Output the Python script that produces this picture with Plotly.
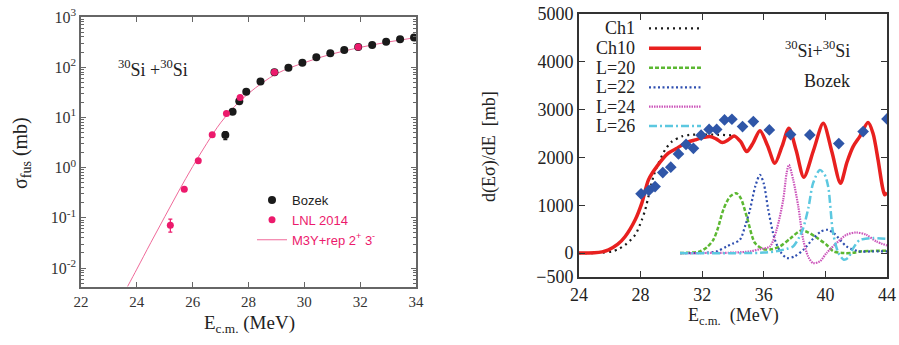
import plotly.graph_objects as go

# ---------------- Left panel data ----------------
bozek_E = [27.17, 27.43, 27.67, 27.92, 28.43, 28.93, 29.43, 29.93, 30.43, 30.93, 31.43, 31.93, 32.43, 32.93, 33.43, 33.93]
bozek_sigma = [4.45, 12.9, 21.0, 32.5, 52.0, 79.0, 97.0, 122.0, 158.0, 189.0, 221.0, 252.0, 278.0, 322.0, 360.0, 389.0]
bozek_err_plus = [0.75, 0, 0, 0, 0, 0, 0, 0, 0, 0, 0, 0, 0, 0, 0, 0]
bozek_err_minus = [0.85, 0, 0, 0, 0, 0, 0, 0, 0, 0, 0, 0, 0, 0, 0, 0]

lnl_E = [25.20, 25.70, 26.20, 26.70, 27.21, 27.70, 28.93, 31.93]
lnl_sigma = [0.071, 0.37, 1.37, 4.5, 12.0, 25.0, 79.0, 253.0]
lnl_err_plus = [0.023, 0, 0, 0, 0, 0, 0, 0]
lnl_err_minus = [0.019, 0, 0, 0, 0, 0, 0, 0]

m3y_E = [23.67, 24.0, 24.5, 25.0, 25.5, 26.0, 26.5, 27.0, 27.5, 28.0, 28.5, 29.0, 29.5, 30.0, 30.5, 31.0, 31.5, 32.0, 32.5, 33.0, 33.5, 34.0]
m3y_sigma = [0.0043, 0.0095, 0.032, 0.105, 0.34, 1.05, 3.0, 7.8, 16.5, 30.0, 49.0, 74.0, 98.0, 123.0, 153.0, 184.0, 215.0, 248.0, 282.0, 318.0, 352.0, 390.0]

left_ytick_vals = [0.01, 0.1, 1, 10, 100, 1000]
left_ytick_text = ["10<sup>-2</sup>", "10<sup>-1</sup>", "10<sup>0</sup>", "10<sup>1</sup>", "10<sup>2</sup>", "10<sup>3</sup>"]
left_minor_vals = [m * 10 ** k for k in range(-3, 3) for m in range(2, 10)]

# ---------------- Right panel data ----------------
exp_E = [28.03, 28.54, 28.94, 29.44, 29.96, 30.46, 30.95, 31.43, 31.93, 32.45, 32.94, 33.45, 33.93, 34.62, 35.32, 36.36, 37.74, 38.99, 40.87, 42.45, 44.0]
exp_val = [1240, 1310, 1392, 1684, 1796, 2074, 2273, 2190, 2465, 2586, 2586, 2785, 2799, 2645, 2750, 2576, 2478, 2471, 2290, 2541, 2806]

ch1_E = [24.0, 25.0, 25.5, 26.14, 26.6, 27.0, 27.65, 28.08, 28.3, 28.51, 28.83, 29.16, 29.59, 30.03, 30.68, 31.2, 32.0, 33.0, 34.1]
ch1_val = [0, 0, 8, 33, 90, 173, 382, 696, 905, 1183, 1600, 1880, 2158, 2331, 2440, 2472, 2480, 2475, 2460]

ch10_E = [24.0, 25.0, 25.5, 25.92, 26.5, 27.0, 27.65, 28.08, 28.51, 29.05, 29.8, 30.4, 30.89, 31.54, 32.1, 32.5, 32.9, 33.31, 33.7, 34.07, 34.5, 34.89, 35.3,
          35.75, 36.24, 36.72, 37.18, 37.63, 38.1, 38.6, 39.23, 39.86, 40.42, 40.98, 41.4, 41.8, 42.23, 42.77, 43.09, 43.42, 43.7, 43.85, 44.0]
ch10_val = [0, 5, 25, 69, 180, 347, 696, 1044, 1531, 1809, 2089, 2200, 2298, 2367, 2420, 2440, 2390, 2311, 2370, 2450, 2330, 2123, 2300,
            2561, 2250, 1880, 2230, 2611, 2150, 1588, 2150, 2715, 2120, 1462, 1900, 2227, 2436, 2729, 2507, 1949, 1392, 1218, 1266]

l20_E = [30.56, 31.5, 31.86, 32.3, 32.72, 33.0, 33.37, 33.8, 34.2, 34.5, 34.89, 35.43, 35.97, 36.5, 37.05, 37.7, 38.4, 38.9, 39.4, 40.07, 40.5, 41.2, 41.8, 42.3, 43.0, 44.0]
l20_val = [0, 15, 35, 120, 278, 500, 904, 1180, 1253, 1150, 766, 209, 84, 80, 139, 300, 470, 430, 330, 174, 40, 0, 5, 35, 45, 50]

l22_E = [30.56, 32.0, 32.94, 33.59, 34.0, 34.45, 34.8, 35.1, 35.45, 35.75, 36.0, 36.29, 36.72, 37.1, 37.5, 38.0, 38.6, 39.2, 39.7, 40.15, 40.6, 41.37, 42.2, 43.0, 44.0]
l22_val = [0, 5, 35, 139, 200, 278, 580, 904, 1400, 1636, 1450, 904, 278, 20, -104, -70, 80, 300, 450, 487, 400, 139, 35, 35, 35]

l24_E = [30.56, 34.0, 35.1, 35.75, 36.4, 36.83, 37.26, 37.48, 37.63, 37.91, 38.24, 38.56, 38.88, 39.2, 39.64, 40.07, 40.72, 41.37, 42.0, 42.66, 43.31, 44.0]
l24_val = [0, 10, 35, 84, 139, 487, 1114, 1671, 1845, 1531, 974, 278, -70, -209, -174, 0, 209, 383, 431, 383, 243, 160]

l26_E = [30.56, 36.0, 37.0, 37.5, 37.9, 38.3, 38.56, 38.9, 39.2, 39.64, 39.95, 40.18, 40.5, 40.85, 41.2, 41.5, 41.8, 42.23, 42.6, 43.1, 44.0]
l26_val = [0, 10, 50, 90, 139, 330, 522, 950, 1462, 1740, 1640, 1393, 418, 0, -140, -90, 100, 278, 300, 313, 300]

legend_labels = ["Ch1", "Ch10", "L=20", "L=22", "L=24", "L=26"]

# ---------------- Styles ----------------
PINK = "#ec1a6c"
PINK_LINE = "#f06a9a"
BLACK = "#1a1a1a"
RED = "#e8201f"
GREEN = "#5cb832"
BLUE = "#2f4fb0"
MAGENTA = "#cc55bb"
CYAN = "#5cc8e0"
DIAMOND = "#2f56a8"

serif = "Liberation Serif"
sans = "Liberation Sans"

W, H = 899, 345


def px_x(p):
    return p / W


def px_y(p):
    return 1 - p / H


fig = go.Figure()

# Left panel traces
fig.add_trace(go.Scatter(x=m3y_E, y=m3y_sigma, mode="lines", line=dict(color=PINK_LINE, width=1, shape="spline"),
                         name="<span style='color:%s'>M3Y+rep 2<sup>+</sup> 3<sup>-</sup></span>" % PINK,
                         legendrank=3, xaxis="x", yaxis="y"))
fig.add_trace(go.Scatter(x=bozek_E, y=bozek_sigma, mode="markers",
                         marker=dict(color=BLACK, size=8),
                         error_y=dict(type="data", array=bozek_err_plus, arrayminus=bozek_err_minus, color=BLACK, thickness=1.2, width=2),
                         name="<span style='color:#222'>Bozek</span>", legendrank=1, xaxis="x", yaxis="y"))
fig.add_trace(go.Scatter(x=lnl_E, y=lnl_sigma, mode="markers",
                         marker=dict(color=PINK, size=7),
                         error_y=dict(type="data", array=lnl_err_plus, arrayminus=lnl_err_minus, color=PINK, thickness=1.2, width=2),
                         name="<span style='color:%s'>LNL 2014</span>" % PINK, legendrank=2, xaxis="x", yaxis="y"))

# Right panel traces
styles = [
    dict(color=BLACK, width=2.2, dash="2px,4px"),
    dict(color=RED, width=3.5, dash="solid"),
    dict(color=GREEN, width=2.5, dash="4px,2px"),
    dict(color=BLUE, width=2.2, dash="2px,2.5px"),
    dict(color=MAGENTA, width=2.2, dash="1.5px,1px"),
    dict(color=CYAN, width=2.5, dash="8px,3px,2px,3px"),
]
curves = [(ch1_E, ch1_val), (ch10_E, ch10_val), (l20_E, l20_val), (l22_E, l22_val), (l24_E, l24_val), (l26_E, l26_val)]
draw_order = [2, 3, 4, 5, 0, 1]
for i in draw_order:
    xs, ys = curves[i]
    fig.add_trace(go.Scatter(x=xs, y=ys, mode="lines", line=dict(shape="spline", smoothing=0.8, **styles[i]),
                             showlegend=False, xaxis="x2", yaxis="y2"))
fig.add_trace(go.Scatter(x=exp_E, y=exp_val, mode="markers",
                         marker=dict(symbol="diamond", color=DIAMOND, size=9),
                         showlegend=False, xaxis="x2", yaxis="y2"))

# Manual legend for right panel (text left of line sample)
leg_rows = [28.3, 48.3, 67.7, 87.3, 106.7, 126.0]
shapes = []
annotations = []
for lab, yy, st in zip(legend_labels, leg_rows, styles):
    annotations.append(dict(x=px_x(637), y=px_y(yy), xref="paper", yref="paper", text=lab, showarrow=False,
                            xanchor="right", yanchor="middle", height=18, valign="middle",
                            font=dict(family=serif, size=18, color="#222")))
    shapes.append(dict(type="line", xref="paper", yref="paper", x0=px_x(649), x1=px_x(701), y0=px_y(yy), y1=px_y(yy),
                       line=dict(color=st["color"], width=st["width"], dash=st["dash"])))


def ann(x, y, text, size, angle=0, yanchor="middle"):
    return dict(x=px_x(x), y=px_y(y), xref="paper", yref="paper", text=text, showarrow=False,
                xanchor="center", yanchor=yanchor, textangle=angle,
                font=dict(family=serif, size=size, color="#222"))


annotations += [
    ann(153, 68, "<sup>30</sup>Si +<sup>30</sup>Si", 18),
    ann(817, 50, "<sup>30</sup>Si+<sup>30</sup>Si", 18),
    ann(827, 81, "Bozek", 18),
    ann(249, 310, "E<sub>c.m.</sub> (MeV)", 19, yanchor="top"),
    ann(733, 303, "E<sub>c.m.</sub>&nbsp; (MeV)", 18, yanchor="top"),
    ann(21, 153, "σ<sub>fus</sub> (mb)", 20, angle=-90),
    ann(489, 147, "d(Eσ)/dE&nbsp; [mb]", 18, angle=-90),
]

axis_common = dict(showgrid=False, zeroline=False, ticks="inside", mirror="ticks", showline=True, automargin=False)

fig.update_layout(
    width=W, height=H,
    margin=dict(l=0, r=0, t=0, b=0, pad=0, autoexpand=False),
    paper_bgcolor="white", plot_bgcolor="white",
    xaxis=dict(domain=[px_x(81), px_x(416)], range=[22, 34], dtick=2, tick0=22, anchor="y",
               linecolor="#666", linewidth=1.5, tickcolor="#666", ticklen=5, tickwidth=1,
               tickfont=dict(family=serif, size=15, color="#333"), **axis_common),
    yaxis=dict(domain=[px_y(287), px_y(17)], type="log", range=[-2.378, 3], anchor="x",
               tickmode="array", tickvals=left_ytick_vals, ticktext=left_ytick_text,
               linecolor="#666", linewidth=1.5, tickcolor="#666", ticklen=5, tickwidth=1,
               minor=dict(tickmode="array", tickvals=left_minor_vals, ticks="inside", ticklen=3, tickcolor="#666", showgrid=False),
               tickfont=dict(family=serif, size=16, color="#333"), **axis_common),
    xaxis2=dict(domain=[px_x(579), px_x(887)], range=[24, 44], dtick=4, tick0=24, anchor="y2",
                linecolor="#333", linewidth=2, tickcolor="#333", ticklen=6, tickwidth=1,
                tickfont=dict(family=serif, size=18, color="#222"), **axis_common),
    yaxis2=dict(domain=[px_y(277), px_y(14)], range=[-500, 5000], anchor="x2",
                tickmode="array", tickvals=[-500, 0, 1000, 2000, 3000, 4000, 5000],
                linecolor="#333", linewidth=2, tickcolor="#333", ticklen=6, tickwidth=1,
                tickfont=dict(family=serif, size=18, color="#222"), **axis_common),
    showlegend=True,
    legend=dict(x=px_x(252), y=px_y(185), xanchor="left", yanchor="top", bgcolor="rgba(0,0,0,0)",
                font=dict(family=sans, size=13), itemwidth=30, tracegroupgap=0),
    shapes=shapes,
    annotations=annotations,
)

fig.write_html("out.html", config={"displayModeBar": False},
               post_script="document.body.style.margin='0';document.body.style.padding='0';")
